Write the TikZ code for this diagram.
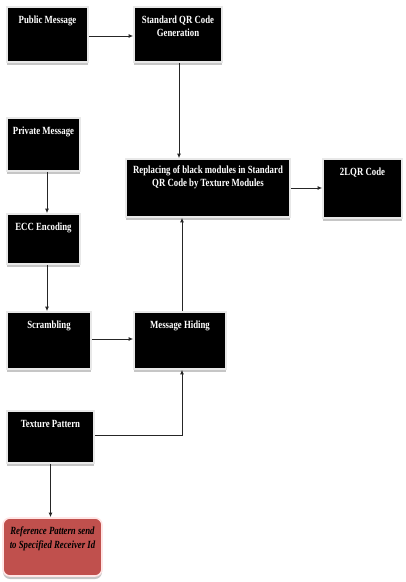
\documentclass[tikz,border=0pt]{standalone}
\usepackage{fontspec}
\newfontfamily\boxfont[FakeStretch=0.8]{Liberation Serif}
\usetikzlibrary{shadows,arrows.meta,calc}
\definecolor{refred}{HTML}{C0504D}
\newcommand{\bt}[4]{\parbox[c][#2][t]{#1}{\centering\vspace*{#3}#4\par}}
\tikzset{
  blk/.style={fill=black, draw=gray!18, line width=1.6bp, inner sep=0pt,
    text=white, font=\boxfont\bfseries\fontsize{11}{12.5}\selectfont,
    drop shadow={shadow xshift=0bp, shadow yshift=-3bp, fill=gray!45, opacity=1}},
  refbox/.style={fill=refred, draw=red!10, line width=1.6bp, rounded corners=7bp, inner sep=0pt,
    text=black, font=\boxfont\bfseries\itshape\fontsize{11}{14}\selectfont,
    drop shadow={shadow xshift=0bp, shadow yshift=-3bp, fill=gray!45, opacity=1}},
  arr/.style={draw=black!85, line width=0.9bp, -{Latex[length=4.5bp,width=4bp]}},
  ln/.style={draw=black!85, line width=0.9bp}
}
\begin{document}
\begin{tikzpicture}[x=1bp,y=-1bp]
\useasboundingbox (0,0) rectangle (405,582);
\node[blk] (pub) at (47.5,34.5) {\bt{81bp}{55bp}{9bp}{Public Message}};
\node[blk] (qr) at (178,34.5) {\bt{88bp}{55bp}{9bp}{Standard QR Code\\Generation}};
\node[blk] (priv) at (43.5,144.5) {\bt{73bp}{53bp}{9bp}{Private Message}};
\node[blk] (ecc) at (43.5,239) {\bt{73bp}{50bp}{9bp}{ECC Encoding}};
\node[blk] (scr) at (49,340.5) {\bt{84bp}{57bp}{9bp}{Scrambling}};
\node[blk] (mh) at (180,340.5) {\bt{92bp}{57bp}{9bp}{Message Hiding}};
\node[blk] (tp) at (50.5,437) {\bt{87bp}{52bp}{9bp}{Texture Pattern}};
\node[blk] (rep) at (208,188) {\bt{164bp}{58bp}{7bp}{Replacing of black modules in Standard\\QR Code by Texture Modules}};
\node[blk] (lqr) at (362.5,188.5) {\bt{79bp}{59bp}{9bp}{2LQR Code}};
\node[refbox] (ref) at (52.5,547) {\bt{99bp}{58bp}{9bp}{Reference Pattern send\\to Specified Receiver Id}};

\draw[arr] ([yshift=-1.5bp]pub.east) -- ([yshift=-1.5bp]qr.west);
\draw[arr] ([xshift=1bp]qr.south) -- ([xshift=1bp]qr.south |- rep.north);
\draw[arr] ([xshift=3.5bp]priv.south) -- ([xshift=3.5bp]ecc.north);
\draw[arr] ([xshift=3.5bp]ecc.south) -- ([xshift=3.5bp]ecc.south |- scr.north);
\draw[arr] ([yshift=1.5bp]scr.east) -- ([yshift=1.5bp]scr.east -| mh.west);
\draw[arr] ([xshift=2bp]mh.north) -- ([xshift=2bp]mh.north |- rep.south);
\draw[arr] ([yshift=2bp]tp.east) -| ([xshift=2bp]mh.south);
\draw[arr] (tp.south) -- (tp.south |- ref.north);
\draw[arr] (rep.east) -- (rep.east -| lqr.west);
\end{tikzpicture}
\end{document}
